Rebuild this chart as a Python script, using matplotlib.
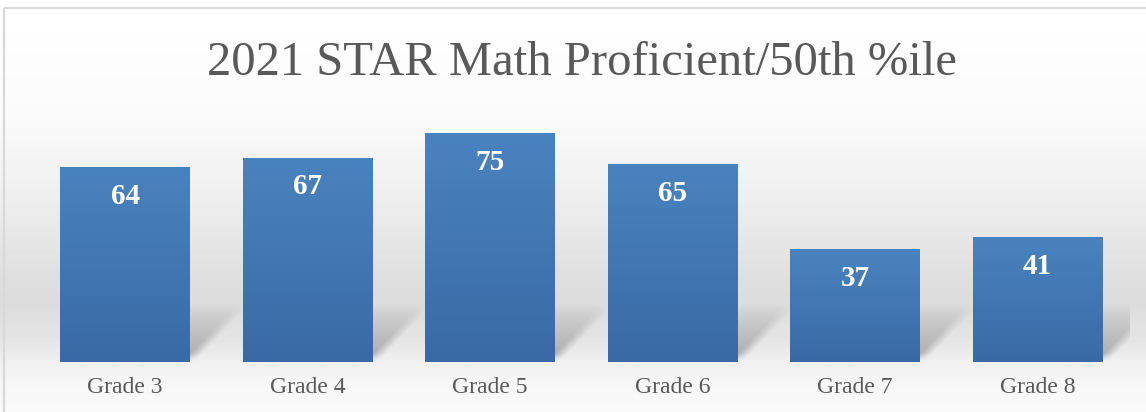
import numpy as np
import matplotlib.pyplot as plt
from matplotlib.patches import Rectangle
from matplotlib.colors import LinearSegmentedColormap

grades = ["Grade 3", "Grade 4", "Grade 5", "Grade 6", "Grade 7", "Grade 8"]
scores = [64, 67, 75, 65, 37, 41]
title = "2021 STAR Math Proficient/50th %ile"

serif = ["Liberation Serif", "DejaVu Serif"]
W, H = 1146, 412
fig = plt.figure(figsize=(W / 100, H / 100), dpi=100)

# background gradient (whole figure)
bg = fig.add_axes([0, 0, 1, 1], zorder=0)
stops_y = np.array([0, 10, 120, 200, 280, 305, 340, 362, 385, 412])
stops_v = np.array([255, 255, 250, 238, 222, 220, 229, 240, 247, 250]) / 255
col = np.interp(np.arange(H), stops_y, stops_v)
bg.imshow(np.repeat(col[:, None], 4, axis=1), cmap="gray", vmin=0, vmax=1,
          aspect="auto", extent=(0, W, H, 0))
bg.add_patch(Rectangle((4, 8), W + 10, H + 10, fill=False, ec="#d9d9d9", lw=1.6))
bg.set_xlim(0, W)
bg.set_ylim(H, 0)
bg.axis("off")

ax = fig.add_axes([33.75 / W, 1 - 362 / H, 1095 / W, 244 / H], zorder=1)
ax.patch.set_visible(False)
x = np.arange(len(grades))
bw = 0.712
bars = ax.bar(x, scores, width=bw, color="#4479b4", zorder=3)

bar_cmap = LinearSegmentedColormap.from_list("b", ["#3a6aa5", "#4983bf"])
grad = np.linspace(0, 1, 100)[:, None]
sh_cmap = LinearSegmentedColormap.from_list(
    "s", [(0.4, 0.4, 0.4, 0.0), (0.4, 0.4, 0.4, 1.0)])
for b in bars:
    x0, w, h = b.get_x(), b.get_width(), b.get_height()
    # gradient fill of bar
    im = ax.imshow(grad, cmap=bar_cmap, aspect="auto", origin="lower",
                   extent=(x0, x0 + w, 0, h), zorder=3.5)
    im.set_clip_path(b)
    # soft sheared shadow behind bar
    dx, dy = 0.27, 17
    xs = np.linspace(x0, x0 + w + 0.4, 120)
    ys = np.linspace(0, dy + 3, 60)
    X, Y = np.meshgrid(xs, ys)
    s = (X - x0) - dx * np.clip(Y, 0, dy) / dy
    edge = np.clip((w + 0.03 - s) / 0.07, 0, 1)
    vert = np.clip(1 - Y / (dy + 2), 0, 1) ** 0.8 * np.clip(Y / 2.5, 0, 1)
    alpha = 0.5 * edge * vert
    ax.imshow(alpha, cmap=sh_cmap, vmin=0, vmax=1, aspect="auto",
              origin="lower", extent=(xs[0], xs[-1], 0, ys[-1]), zorder=2,
              interpolation="bilinear")
    ax.text(x0 + w / 2, h - 9.6, f"{h:.0f}", ha="center", va="center",
            color="white", fontsize=21, fontweight="bold", family=serif, zorder=5)

ax.set_xlim(-0.5, len(grades) - 0.5)
ax.set_ylim(0, 80)
ax.set_xticks(x)
ax.set_xticklabels(grades, family=serif, fontsize=17, color="#595959")
ax.tick_params(axis="x", length=0, pad=11)
ax.set_yticks([])
for sp in ax.spines.values():
    sp.set_visible(False)

fig.text(582 / W, 1 - 75 / H, title, ha="center", va="baseline",
         family=serif, fontsize=35, color="#595959")

fig.savefig("out.png", dpi=100)
